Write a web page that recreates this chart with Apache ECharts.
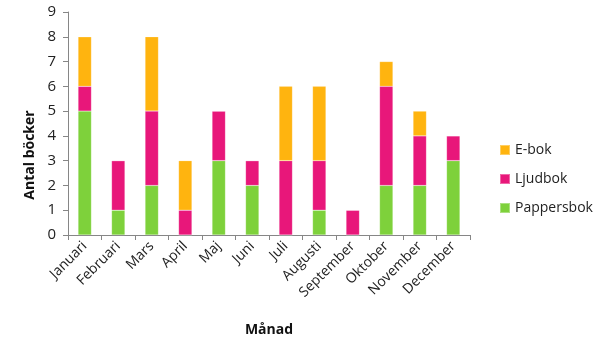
<!DOCTYPE html>
<html><head><meta charset="utf-8">
<script src="https://cdn.jsdelivr.net/npm/echarts@6/dist/echarts.min.js"></script>
<style>html,body{margin:0;padding:0;background:#fff}#c{width:600px;height:348px}</style>
</head><body><div id="c"></div>
<script>
const months = ['Januari','Februari','Mars','April','Maj','Juni','Juli','Augusti','September','Oktober','November','December'];
const pappersbok = [5,1,2,0,3,2,0,1,0,2,2,3];
const ljudbok    = [1,2,3,1,2,1,3,2,1,4,2,1];
const ebok       = [2,0,3,2,0,0,3,3,0,1,1,0];
const yTicks = [0,1,2,3,4,5,6,7,8,9];

const FONT = '"Open Sans", "Noto Sans", sans-serif';
const axisColor = '#868686';
const chart = echarts.init(document.getElementById('c'));
function s(name, data, color){
  return {name, type:'bar', stack:'a', data, barWidth:'40%',
    itemStyle:{color, borderColor:'rgba(255,255,255,0.35)', borderWidth:0.5},
    emphasis:{disabled:true}};
}
chart.setOption({
  animation:false,
  textStyle:{fontFamily:FONT},
  grid:{left:68, right:130, top:12, bottom:113},
  legend:{
    orient:'vertical', left:494, top:138, itemGap:15, itemWidth:10, itemHeight:10,
    icon:'rect', data:['E-bok','Ljudbok','Pappersbok'],
    textStyle:{fontSize:14, color:'#222', fontFamily:FONT}
  },
  xAxis:{
    type:'category', data:months, name:'Månad', nameLocation:'middle', nameGap:88,
    nameTextStyle:{fontSize:14, fontWeight:'bold', color:'#111', fontFamily:FONT},
    axisLine:{lineStyle:{color:axisColor}},
    axisTick:{show:true, alignWithLabel:false, length:5, lineStyle:{color:axisColor}},
    axisLabel:{rotate:45, fontSize:14, color:'#222', margin:9, interval:0, fontFamily:FONT}
  },
  yAxis:{
    type:'value', min:yTicks[0], max:yTicks[yTicks.length-1], interval:1,
    axisLine:{show:true, lineStyle:{color:axisColor}},
    axisTick:{show:true, length:5, lineStyle:{color:axisColor}},
    splitLine:{show:false},
    axisLabel:{fontSize:15, color:'#222', margin:12, fontFamily:FONT}
  },
  graphic:[{
    type:'text', rotation:Math.PI/2,
    style:{text:'Antal böcker', fontSize:14, fontWeight:'bold', fill:'#111', fontFamily:FONT,
      textAlign:'center', textVerticalAlign:'middle'},
    x:30, y:155
  }],
  series:[ s('Pappersbok', pappersbok, '#7ED13B'), s('Ljudbok', ljudbok, '#E8177A'), s('E-bok', ebok, '#FFB40F') ]
});
</script></body></html>
